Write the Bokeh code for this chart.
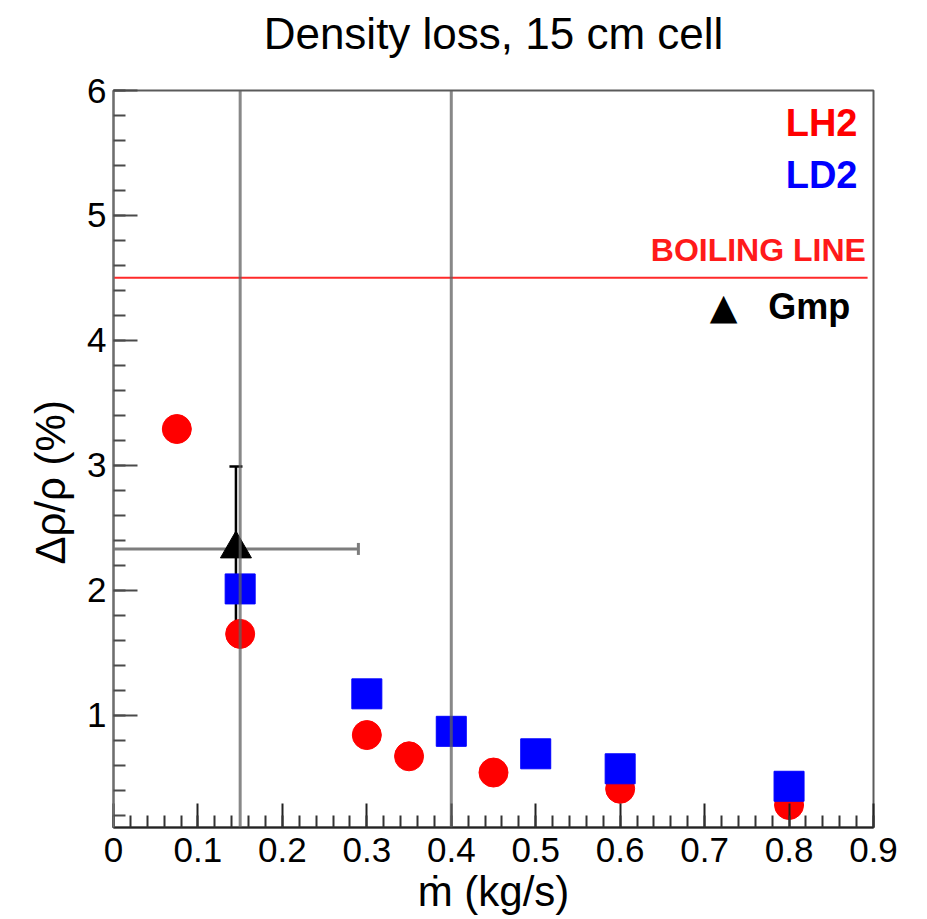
from bokeh.plotting import figure
from bokeh.models import (ColumnDataSource, Span, Label, Whisker, TeeHead, Title,
                          SingleIntervalTicker, CustomJSTickFormatter, Range1d)
from bokeh.embed import file_html
from bokeh.resources import INLINE

# Density loss vs. mass flow rate, 15 cm target cell
lh2_flow = [0.075, 0.15, 0.30, 0.35, 0.45, 0.60, 0.80]
lh2_loss = [3.29, 1.65, 0.84, 0.67, 0.54, 0.41, 0.28]

ld2_flow = [0.15, 0.30, 0.40, 0.50, 0.60, 0.80]
ld2_loss = [2.01, 1.17, 0.87, 0.69, 0.57, 0.43]

gmp_flow = [0.145]
gmp_loss = [2.33]
gmp_flow_err = [0.145]
gmp_loss_err = [0.66]

flow_markers = [0.15, 0.40]          # vertical reference lines
boiling_level = 4.5                  # boiling line, % density loss
boiling_extent = [0.0, 0.893]

FONT = "Liberation Sans"

p = figure(width=927, height=919, output_backend="svg", toolbar_location=None,
           x_range=Range1d(0, 0.9), y_range=Range1d(0.1, 6.0),
           min_border_left=113, min_border_right=54,
           min_border_top=90, min_border_bottom=92)

p.title.text = "Density loss, 15 cm cell"
p.title.align = "center"
p.title.text_font = FONT
p.title.text_font_size = "44px"
p.title.text_font_style = "normal"
p.title.text_color = "black"
p.title.standoff = 0
# blank strip between the title and the frame
p.add_layout(Title(text=" ", text_font_size="10px", standoff=20), "above")

p.xgrid.visible = False
p.ygrid.visible = False
p.background_fill_color = "white"
p.border_fill_color = "white"
p.outline_line_color = "#5a5a5a"
p.outline_line_width = 2

fmt = CustomJSTickFormatter(code="return tick.toFixed(1).replace(/\\.0$/, '');")

xa = p.xaxis[0]
xa.ticker = SingleIntervalTicker(interval=0.1, num_minor_ticks=5)
xa.formatter = fmt
ya = p.yaxis[0]
ya.ticker = SingleIntervalTicker(interval=1, num_minor_ticks=5)
ya.formatter = fmt

for ax in (xa, ya):
    ax.major_tick_in = 24
    ax.major_tick_out = 0
    ax.minor_tick_in = 12
    ax.minor_tick_out = 0
    ax.major_tick_line_width = 2
    ax.minor_tick_line_width = 2
    ax.axis_line_width = 2
    ax.major_label_text_font = FONT
    ax.major_label_text_font_size = "35px"
    ax.major_label_text_color = "black"
    ax.axis_label_text_font = FONT
    ax.axis_label_text_font_size = "42px"
    ax.axis_label_text_font_style = "normal"
    ax.axis_label_text_color = "black"

xa.axis_line_color = "#222222"
xa.major_tick_line_color = "#222222"
xa.minor_tick_line_color = "#333333"
ya.axis_line_color = "#6e6e6e"
ya.major_tick_line_color = "#4a4a4a"
ya.minor_tick_line_color = "#4a4a4a"

xa.axis_label = "ṁ (kg/s)"
# trailing no-break spaces keep the rotated label a little below centre
ya.axis_label = "Δρ/ρ (%)\u00a0\u00a0\u00a0\u00a0"
xa.major_label_standoff = 10
xa.axis_label_standoff = 3
ya.major_label_standoff = 7
ya.axis_label_standoff = 10

# boiling line
p.segment(x0=[boiling_extent[0]], x1=[boiling_extent[1]],
          y0=[boiling_level], y1=[boiling_level],
          line_color="#ff2a2a", line_width=2)

# data
p.scatter(lh2_flow, lh2_loss, marker="circle", size=29,
          fill_color="#ff0000", line_color="#ff0000")
p.scatter(ld2_flow, ld2_loss, marker="square", size=30,
          fill_color="#0000ff", line_color="#0000ff")

# Gmp point with its errors
gsrc = ColumnDataSource(dict(
    x=gmp_flow, y=gmp_loss,
    xlo=[x - e for x, e in zip(gmp_flow, gmp_flow_err)],
    xhi=[x + e for x, e in zip(gmp_flow, gmp_flow_err)],
    ylo=[y - e for y, e in zip(gmp_loss, gmp_loss_err)],
    yhi=[y + e for y, e in zip(gmp_loss, gmp_loss_err)],
))
p.add_layout(Whisker(source=gsrc, base="y", lower="xlo", upper="xhi",
                     dimension="width", line_color="#7d7d7d", line_width=3,
                     lower_head=None,
                     upper_head=TeeHead(size=12, line_color="#7d7d7d", line_width=3)))
p.add_layout(Whisker(source=gsrc, base="x", lower="ylo", upper="yhi",
                     dimension="height", line_color="black", line_width=2.5,
                     lower_head=None,
                     upper_head=TeeHead(size=13, line_color="black", line_width=2.5)))
p.scatter("x", "y", source=gsrc, marker="triangle", size=31,
          fill_color="black", line_color="black")

# vertical reference lines
for xv in flow_markers:
    p.add_layout(Span(location=xv, dimension="height", line_color="#606060",
                      line_alpha=0.75, line_width=3))

# legend texts
legend = [
    ("LH2", 0.881, 5.74, "#ff0000", "38px"),
    ("LD2", 0.881, 5.32, "#0000ff", "38px"),
    ("BOILING LINE", 0.891, 4.72, "#ff1a1a", "32px"),
    ("Gmp", 0.8726, 4.27, "black", "36px"),
]
for txt, lx, ly, col, fs in legend:
    p.add_layout(Label(x=lx, y=ly, text=txt, text_align="right",
                       text_baseline="middle", text_color=col,
                       text_font=FONT, text_font_size=fs,
                       text_font_style="bold"))
p.add_layout(Label(x=0.739, y=4.27, text="▲", text_align="right",
                   text_baseline="middle", text_color="black",
                   text_font="DejaVu Sans", text_font_size="36px"))

open("out.html", "w").write(file_html(p, INLINE))
